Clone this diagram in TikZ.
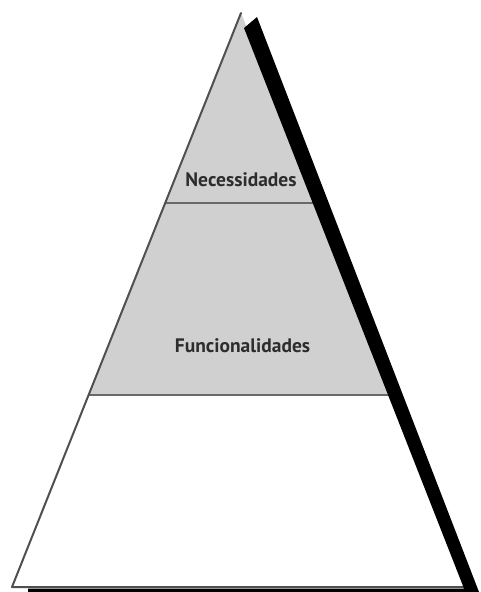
\documentclass[tikz,border=0pt]{standalone}
\usepackage{fontspec}
\setmainfont{PT Sans}
\begin{document}
\begin{tikzpicture}[x=1pt,y=-1pt]
\definecolor{tierfill}{RGB}{208,208,208}
\definecolor{edgegray}{RGB}{80,80,80}
\definecolor{divgray}{RGB}{105,105,105}
\definecolor{labeltext}{RGB}{45,45,45}
\tikzset{
  divider/.style={draw=divgray, line width=2.6pt},
  outline/.style={draw=edgegray, line width=2pt, line cap=round, line join=round},
  tierlabel/.style={font=\bfseries\fontsize{19.5}{22}\selectfont, text=labeltext, inner sep=0pt},
  shadowband/.style={fill=black},
}
\useasboundingbox[fill=white] (0,0) rectangle (480,592);
% triangle corners
\coordinate (apex) at (241,13);
\coordinate (bl) at (12,587);
\coordinate (br) at (470,587);
% tier boundaries
\coordinate (n1) at (165.2,203);
\coordinate (n2) at (316.8,203);
\coordinate (f1) at (88.6,395);
\coordinate (f2) at (393.4,395);
% shaded tiers
\fill[tierfill] (apex) -- (f2) -- (f1) -- cycle;
% dividers
\draw[divider] (n1) -- (n2);
\draw[divider] (f1) -- (f2);
% outline
\draw[outline] (br) -- (bl) -- (apex);
% shadow band
\coordinate (s1) at (244,28);
\coordinate (s2) at (257,17);
\coordinate (s3) at (479,592);
\coordinate (s4) at (28,592);
\coordinate (s5) at (28,588.5);
\coordinate (s6) at (464,588.5);
\fill[shadowband] (s1) -- (s2) -- (s3) -- (s4) -- (s5) -- (s6) -- cycle;
% labels
\node[tierlabel] (nec) at (241,180) {Necessidades};
\node[tierlabel] (fun) at (242.5,346) {Funcionalidades};
\end{tikzpicture}
\end{document}
